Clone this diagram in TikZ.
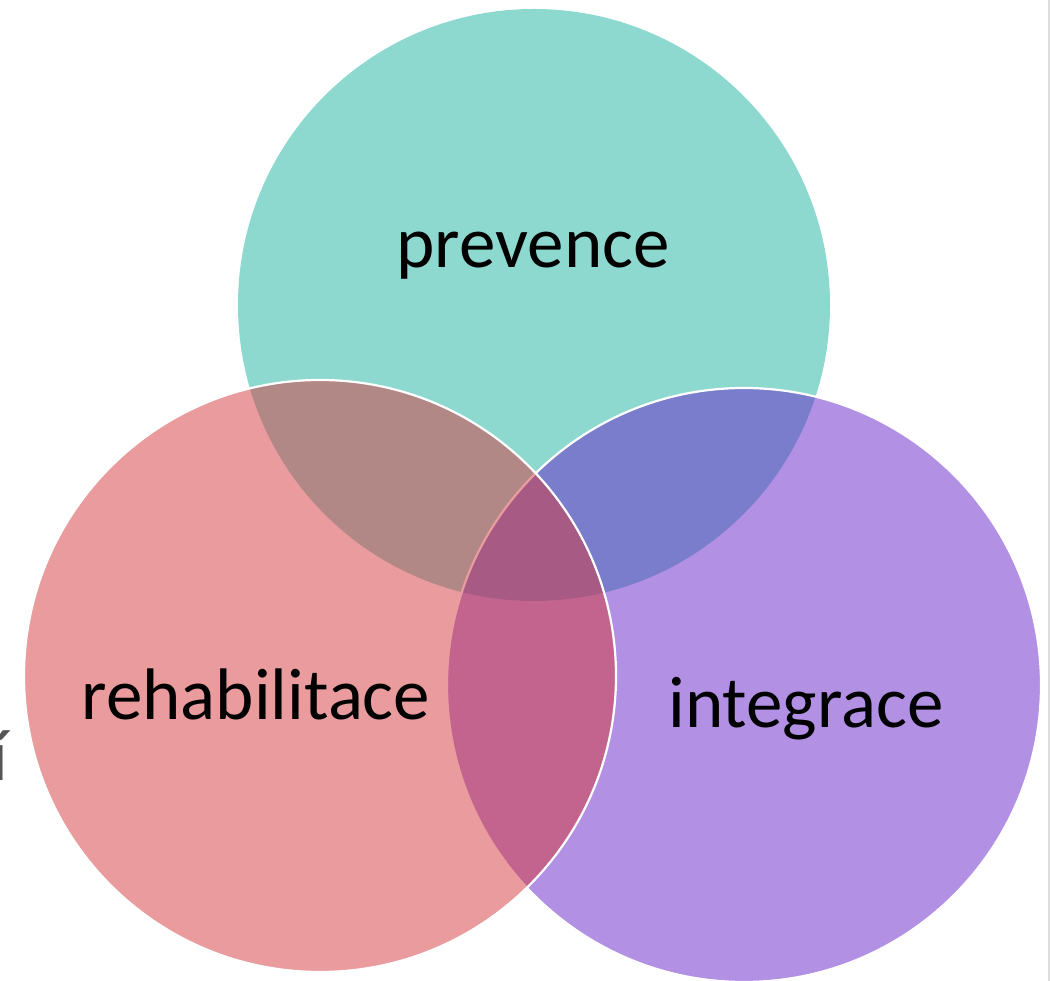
\documentclass[tikz,border=0pt]{standalone}
\usepackage{fontspec}
\setmainfont{Carlito}
\definecolor{topc}{RGB}{141,217,208}
\definecolor{leftc}{RGB}{213,57,61}
\definecolor{rightc}{RGB}{103,35,201}
\definecolor{fragc}{RGB}{85,85,85}
\definecolor{edgec}{RGB}{221,221,221}
\begin{document}
\begin{tikzpicture}[x=1pt,y=1pt,
  vennlabel/.style={font=\fontsize{73}{82}\selectfont, text=black, inner sep=0pt},
  ring/.style={draw=white, line width=2.2pt, fill opacity=0.5, draw opacity=1}]
\useasboundingbox (0,0) rectangle (1051,981);
\fill[white] (0,0) rectangle (1051,981);
% right edge rule
\draw[edgec, line width=2pt] (1049,0) -- (1049,981);
% cut-off text at left edge
\node[font=\fontsize{73}{82}\selectfont, text=fragc, inner sep=0pt, anchor=base east] (frag) at (8,200) {í};
% circles
\fill[topc] (534,676) circle[radius=296];
\path[ring, fill=rightc] (744,296) circle[radius=297];
\path[ring, fill=leftc] (320,305) circle[radius=296];
% labels
\node[vennlabel, anchor=base] (prev) at (533,713) {prevence};
\node[vennlabel, anchor=base] (reha) at (256,261) {rehabilitace};
\node[vennlabel, anchor=base] (integ) at (806,253) {integrace};
\end{tikzpicture}
\end{document}
